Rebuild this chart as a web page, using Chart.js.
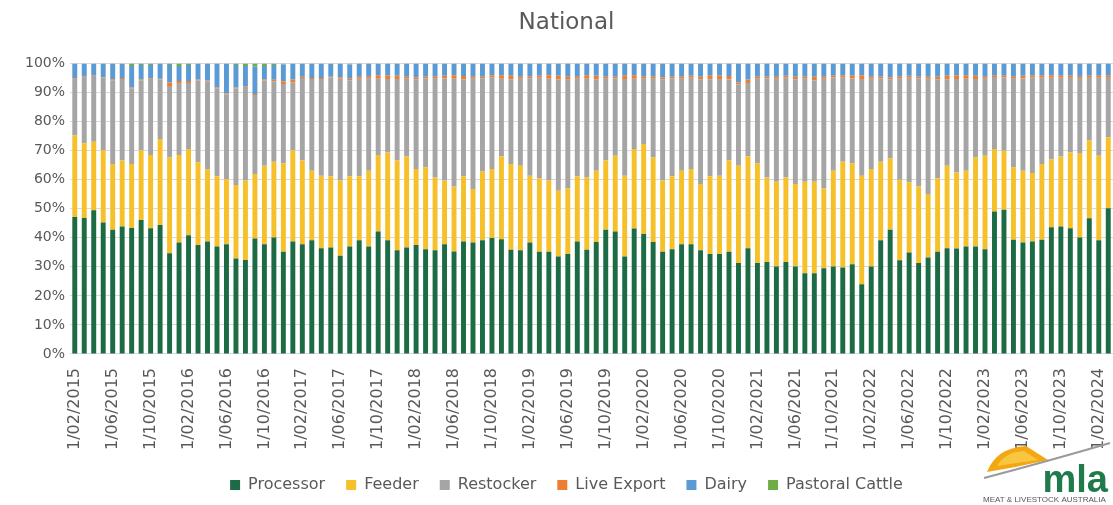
<!DOCTYPE html>
<html>
<head>
<meta charset="utf-8">
<title>National</title>
<script src="https://cdn.jsdelivr.net/npm/chart.js@4.4.1/dist/chart.umd.min.js"></script>
<style>
    html, body { margin: 0; padding: 0; background: #ffffff; }
    #wrap { width: 1113px; height: 505px; position: relative; }
</style>
</head>
<body>
<div id="wrap"><canvas id="myChart" width="1113" height="505"></canvas></div>
<script>
// Monthly categories, Feb 2015 onwards (one bar per month)
const months = [];
for (let i = 0; i < 110; i++) {
    const d = new Date(2015, 1 + i, 1);
    months.push('1/' + String(d.getMonth() + 1).padStart(2, '0') + '/' + d.getFullYear());
}

// Share of cattle purchases by buyer type (%)
const processor = [
    47.2, 46.8, 49.5, 45.3, 42.8, 43.9, 43.4, 46.1, 43.3, 44.4,
    34.7, 38.4, 40.9, 37.5, 38.7, 37.0, 37.8, 32.9, 32.4, 39.8,
    37.8, 40.1, 35.2, 38.7, 37.8, 39.2, 36.4, 36.7, 33.8, 37.0,
    39.2, 37.0, 42.2, 39.2, 35.7, 36.7, 37.5, 36.1, 35.7, 37.8,
    35.3, 38.7, 38.4, 39.2, 39.9, 39.5, 35.9, 35.7, 38.4, 35.2,
    35.2, 33.6, 34.4, 38.7, 35.9, 38.6, 42.8, 42.2, 33.6, 43.2,
    41.3, 38.6, 35.2, 36.1, 37.8, 37.8, 35.7, 34.4, 34.4, 35.2,
    31.3, 36.4, 31.3, 31.7, 30.1, 31.7, 30.1, 27.8, 27.8, 29.5,
    30.1, 29.8, 30.9, 24.0, 30.1, 39.2, 42.8, 32.3, 34.9, 31.3,
    33.2, 35.2, 36.4, 36.3, 37.0, 37.0, 36.1, 49.1, 49.7, 39.3,
    38.4, 38.7, 39.3, 43.6, 43.9, 43.3, 40.1, 46.7, 39.2, 50.2
];
const feeder = [
    28.0, 25.8, 23.6, 24.9, 22.6, 22.7, 22.0, 24.1, 25.2, 29.6,
    33.0, 30.1, 29.7, 28.5, 24.8, 24.2, 22.4, 25.3, 27.3, 22.2,
    27.0, 26.1, 30.5, 31.5, 28.8, 23.9, 25.0, 24.5, 25.9, 24.2,
    22.0, 26.1, 26.3, 30.2, 30.9, 31.3, 26.2, 28.2, 25.1, 21.9,
    22.4, 22.5, 18.4, 23.6, 23.8, 28.5, 29.5, 29.1, 23.0, 25.3,
    24.5, 22.6, 22.6, 22.5, 24.9, 24.5, 23.8, 26.1, 27.8, 27.4,
    31.0, 29.1, 24.5, 25.1, 25.3, 25.9, 22.8, 26.8, 27.0, 31.4,
    33.5, 31.6, 34.4, 29.1, 29.2, 29.1, 28.4, 31.5, 31.5, 27.5,
    33.0, 36.4, 34.8, 37.4, 33.6, 27.0, 24.6, 27.7, 24.2, 26.4,
    21.9, 25.3, 28.4, 26.2, 26.1, 30.7, 32.2, 21.5, 20.3, 25.0,
    24.7, 23.6, 26.1, 23.5, 24.1, 26.1, 29.1, 26.8, 29.1, 24.4
];
const restocker = [
    19.6, 22.8, 22.6, 24.9, 28.9, 28.1, 26.1, 24.0, 26.3, 20.6,
    24.6, 24.6, 22.7, 28.2, 30.4, 30.3, 29.2, 33.3, 32.3, 27.2,
    29.4, 27.7, 27.3, 23.4, 28.4, 31.6, 33.3, 34.0, 35.1, 33.1,
    33.6, 31.7, 26.3, 25.3, 28.1, 26.8, 30.9, 30.6, 34.0, 35.2,
    37.1, 33.3, 38.0, 32.1, 31.6, 26.8, 29.2, 30.0, 33.5, 34.6,
    35.1, 38.3, 37.4, 33.6, 34.0, 31.5, 28.2, 26.6, 33.3, 24.2,
    22.5, 27.1, 34.9, 33.7, 31.7, 31.4, 36.1, 33.4, 33.3, 27.9,
    28.0, 25.3, 29.1, 34.1, 35.5, 34.3, 36.1, 35.5, 34.9, 37.8,
    32.1, 29.1, 29.2, 33.3, 31.1, 28.7, 27.2, 34.8, 36.0, 37.2,
    39.7, 34.1, 29.8, 32.2, 31.7, 27.0, 26.5, 24.8, 25.2, 30.5,
    31.8, 33.0, 29.7, 28.0, 27.1, 26.0, 25.6, 21.9, 26.8, 20.8
];
const liveExport = [
    0.2, 0.2, 0.2, 0.2, 0.3, 0.3, 0.3, 0.3, 0.2, 0.2,
    1.2, 0.9, 0.7, 0.3, 0.3, 0.3, 0.3, 0.3, 0.3, 0.3,
    0.3, 0.5, 0.9, 0.9, 0.5, 0.3, 0.3, 0.3, 0.5, 0.5,
    0.7, 0.7, 1.2, 1.3, 1.1, 0.7, 0.6, 0.6, 0.7, 0.9,
    1.2, 1.2, 0.7, 0.6, 0.7, 1.2, 1.2, 0.7, 0.6, 0.7,
    1.2, 1.3, 1.1, 0.7, 1.2, 1.2, 0.7, 0.6, 1.3, 1.2,
    0.7, 0.7, 0.6, 0.6, 0.7, 0.7, 0.9, 1.2, 1.3, 1.2,
    0.7, 1.2, 0.7, 0.6, 0.7, 0.7, 0.9, 0.7, 1.3, 0.7,
    0.6, 0.7, 0.9, 1.3, 0.7, 0.6, 0.6, 0.7, 0.7, 0.6,
    0.7, 0.9, 1.2, 1.3, 1.2, 1.1, 0.7, 0.6, 0.6, 0.7,
    0.9, 0.7, 0.7, 0.9, 0.7, 0.6, 0.7, 0.6, 0.7, 0.6
];
const dairy = [
    5.0, 4.4, 4.1, 4.7, 5.4, 5.0, 7.4, 5.0, 4.5, 5.2,
    6.0, 5.2, 5.5, 5.5, 5.8, 8.2, 10.3, 7.7, 6.9, 9.5,
    4.7, 5.1, 5.8, 5.5, 4.5, 5.0, 5.0, 4.5, 4.7, 4.9,
    4.5, 4.5, 4.0, 4.0, 4.2, 4.5, 4.8, 4.5, 4.5, 4.2,
    4.0, 4.3, 4.5, 4.5, 4.0, 4.0, 4.2, 4.5, 4.5, 4.2,
    4.0, 4.2, 4.5, 4.5, 4.0, 4.2, 4.5, 4.5, 4.0, 4.0,
    4.5, 4.5, 4.8, 4.5, 4.5, 4.2, 4.5, 4.2, 4.0, 4.3,
    6.5, 5.5, 4.5, 4.5, 4.5, 4.2, 4.5, 4.5, 4.5, 4.5,
    4.2, 4.0, 4.2, 4.0, 4.5, 4.5, 4.8, 4.5, 4.2, 4.5,
    4.5, 4.5, 4.2, 4.0, 4.0, 4.2, 4.5, 4.0, 4.2, 4.5,
    4.2, 4.0, 4.2, 4.0, 4.2, 4.0, 4.5, 4.0, 4.2, 4.0
];
const pastoral = [
    0, 0, 0, 0, 0, 0, 0.8, 0.5, 0.5, 0,
    0.5, 0.8, 0.5, 0, 0, 0, 0, 0.5, 0.8, 1.0,
    0.8, 0.5, 0.3, 0, 0, 0, 0, 0, 0, 0.3,
    0, 0, 0, 0, 0, 0, 0, 0, 0, 0,
    0, 0, 0, 0, 0, 0, 0, 0, 0, 0,
    0, 0, 0, 0, 0, 0, 0, 0, 0, 0,
    0, 0, 0, 0, 0, 0, 0, 0, 0, 0,
    0, 0, 0, 0, 0, 0, 0, 0, 0, 0,
    0, 0, 0, 0, 0, 0, 0, 0, 0, 0,
    0, 0, 0, 0, 0, 0, 0, 0, 0, 0,
    0, 0, 0, 0, 0, 0, 0, 0, 0, 0
];

const seriesNames = ['Processor', 'Feeder', 'Restocker', 'Live Export', 'Dairy', 'Pastoral Cattle'];
const seriesColors = ['#1d6b45', '#f5c02a', '#a5a5a5', '#ed7d31', '#5b9bd5', '#70ad47'];
const seriesData = [processor, feeder, restocker, liveExport, dairy, pastoral];

const textGrey = '#595959';

// MLA logo in the bottom right corner
const logoPlugin = {
    id: 'mlaLogo',
    afterDraw(chart) {
        const c = chart.ctx;
        c.save();
        // orange/yellow mound
        c.fillStyle = '#f3a712';
        c.beginPath();
        c.moveTo(987, 472);
        c.quadraticCurveTo(996, 448, 1026, 446);
        c.lineTo(1048, 460);
        c.quadraticCurveTo(1018, 467, 987, 472);
        c.fill();
        c.fillStyle = '#f8c640';
        c.beginPath();
        c.moveTo(997, 466);
        c.quadraticCurveTo(1005, 452, 1024, 451);
        c.lineTo(1038, 460);
        c.quadraticCurveTo(1016, 463, 997, 466);
        c.fill();
        // grey swoosh
        c.strokeStyle = '#9a9a9a';
        c.lineWidth = 2;
        c.beginPath();
        c.moveTo(984, 478);
        c.quadraticCurveTo(1045, 462, 1110, 443);
        c.stroke();
        // lettering
        c.fillStyle = '#1f7a4c';
        c.font = 'bold 38px "Liberation Sans"';
        c.textBaseline = 'alphabetic';
        c.textAlign = 'right';
        c.fillText('mla', 1108, 492);
        c.fillStyle = '#555555';
        c.font = '8px "Liberation Sans"';
        c.textAlign = 'left';
        c.fillText('MEAT & LIVESTOCK AUSTRALIA', 983, 502, 126);
        c.restore();
    }
};

document.addEventListener('DOMContentLoaded', function() {
    const ctx = document.getElementById('myChart').getContext('2d');
    const myChart = new Chart(ctx, {
        type: 'bar',
        data: {
            labels: months,
            datasets: seriesNames.map((name, i) => ({
                label: name,
                data: seriesData[i],
                backgroundColor: seriesColors[i],
                borderWidth: 0,
                barPercentage: 0.52,
                categoryPercentage: 1.0
            }))
        },
        options: {
            responsive: false,
            animation: false,
            layout: {
                padding: { left: 20, right: 0, top: 0, bottom: 2 }
            },
            scales: {
                x: {
                    stacked: true,
                    grid: { display: false },
                    border: { display: true, color: '#d9d9d9' },
                    // let the bars run to the right edge like the original
                    afterFit: function(scale) {
                        scale.paddingRight = 0;
                        scale.paddingLeft = 0;
                    },
                    ticks: {
                        autoSkip: false,
                        minRotation: 90,
                        maxRotation: 90,
                        padding: 6,
                        color: textGrey,
                        font: { family: 'DejaVu Sans', size: 16 },
                        callback: function(value, index) {
                            return index % 4 === 0 ? months[index] : '';
                        }
                    }
                },
                y: {
                    stacked: true,
                    min: 0,
                    max: 100,
                    grid: { color: '#d9d9d9', drawTicks: false },
                    border: { display: false },
                    ticks: {
                        stepSize: 10,
                        padding: 5,
                        color: textGrey,
                        font: { family: 'DejaVu Sans', size: 14 },
                        callback: value => value + '%'
                    }
                }
            },
            plugins: {
                title: {
                    display: true,
                    text: 'National',
                    color: textGrey,
                    font: { family: 'DejaVu Sans', size: 23, weight: 'normal' },
                    padding: { top: 9, bottom: 27 }
                },
                legend: {
                    position: 'bottom',
                    labels: {
                        color: textGrey,
                        boxWidth: 10,
                        boxHeight: 10,
                        padding: 21,
                        font: { family: 'DejaVu Sans', size: 16 }
                    }
                },
                tooltip: { enabled: false }
            }
        },
        plugins: [logoPlugin]
    });
});
</script>
</body>
</html>
